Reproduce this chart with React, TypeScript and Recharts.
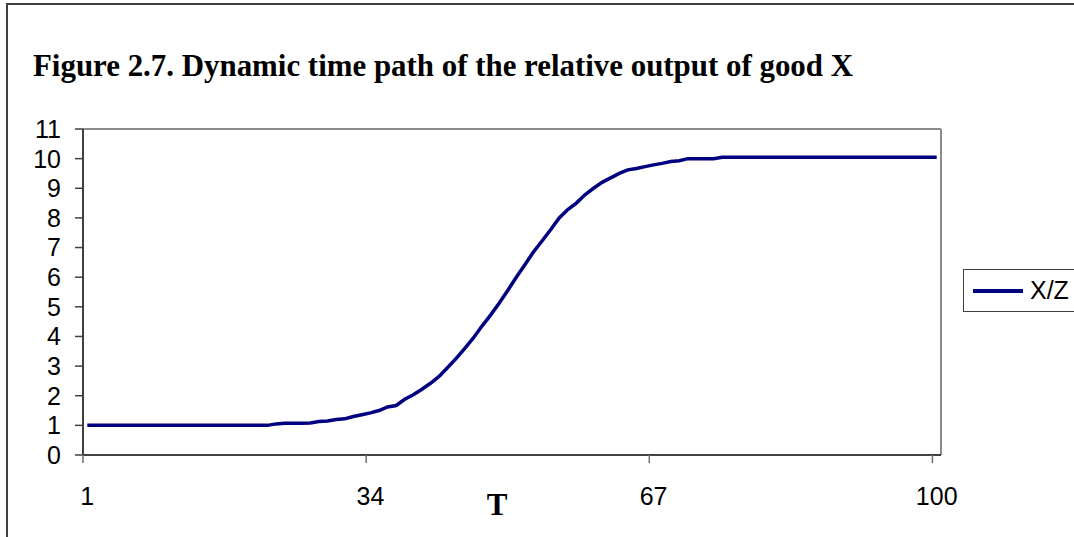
import React from "react";
import {
  Legend,
  Line,
  LineChart,
  ReferenceLine,
  XAxis,
  YAxis,
} from "recharts";

// Relative output X/Z over periods T = 1..100.
const flatStart = Array(22).fill(1.0);
const riseValues = [
  1.05, 1.07, 1.07, 1.07, 1.08, 1.13, 1.15, 1.2, 1.22, 1.3, 1.36, 1.42, 1.5,
  1.62, 1.67, 1.88, 2.03, 2.22, 2.42, 2.65, 2.95, 3.26, 3.6, 3.95, 4.35, 4.72,
  5.12, 5.55, 6.0, 6.42, 6.85, 7.22, 7.6, 8.0, 8.28, 8.5, 8.78, 9.0, 9.2, 9.35,
  9.5, 9.62, 9.67, 9.73, 9.79, 9.84, 9.9, 9.93, 10.0, 10.0, 10.0, 10.0,
];
const flatEnd = Array(26).fill(10.05);
const ratioValues: number[] = [...flatStart, ...riseValues, ...flatEnd];

const periods = ratioValues.map((_, i) => i + 1);
const xTicks = [1, 34, 67, 100];
const yTicks = [0, 1, 2, 3, 4, 5, 6, 7, 8, 9, 10, 11];

const data = periods.map((t, i) => ({ t, ratio: ratioValues[i] }));

const WIDTH = 1074;
const HEIGHT = 537;
const MARGIN = { top: 129, right: 133, bottom: 22, left: 0 };
const Y_AXIS_WIDTH = 83;
const PLOT_WIDTH = WIDTH - MARGIN.left - MARGIN.right - Y_AXIS_WIDTH;
const HALF_CATEGORY = PLOT_WIDTH / periods.length / 2;

const NAVY = "#000080";
const AXIS_DARK = "#404040";
const BORDER_GRAY = "#8c8c8c";
const SANS = "'Liberation Sans', Arial, sans-serif";
const SERIF = "'Liberation Serif', 'Times New Roman', serif";

// Excel-style category axis: tick marks sit between categories, labels on them.
function CategoryTick(props: any) {
  const { x, y, payload } = props;
  return (
    <g>
      <line
        x1={x - HALF_CATEGORY}
        x2={x - HALF_CATEGORY}
        y1={y}
        y2={y + 8}
        stroke="#707070"
        strokeWidth={1.5}
      />
      <text
        x={x}
        y={y + 50}
        textAnchor="middle"
        fontFamily={SANS}
        fontSize={25}
        fill="#000"
      >
        {payload.value}
      </text>
    </g>
  );
}

function LegendBox(props: any) {
  const items = props.payload ?? [];
  return (
    <div
      style={{
        border: `1.5px solid ${AXIS_DARK}`,
        width: 200,
        height: 41,
        display: "flex",
        alignItems: "center",
        background: "#fff",
      }}
    >
      {items.map((item: any) => (
        <div key={item.value} style={{ display: "flex", alignItems: "center" }}>
          <svg width={66} height={20}>
            <line x1={9} x2={59} y1={10} y2={10} stroke={NAVY} strokeWidth={4} />
          </svg>
          <span style={{ fontFamily: SANS, fontSize: 25, color: "#000" }}>
            {item.value}
          </span>
        </div>
      ))}
    </div>
  );
}

export default function App() {
  return (
    <div
      style={{
        position: "absolute",
        left: 0,
        top: 0,
        width: WIDTH,
        height: HEIGHT,
        overflow: "hidden",
        background: "#fff",
      }}
    >
      <div
        style={{
          position: "absolute",
          left: 6,
          top: 3,
          width: 1200,
          height: 700,
          borderLeft: `2px solid ${AXIS_DARK}`,
          borderTop: `2px solid ${AXIS_DARK}`,
        }}
      />
      <svg
        width={WIDTH}
        height={100}
        style={{ position: "absolute", left: 0, top: 0 }}
      >
        <text
          x={33}
          y={76}
          fontFamily={SERIF}
          fontWeight="bold"
          fontSize={32}
          textLength={820}
          lengthAdjust="spacingAndGlyphs"
          fill="#000"
        >
          Figure 2.7. Dynamic time path of the relative output of good X
        </text>
      </svg>
      <div style={{ position: "absolute", left: 0, top: 0 }}>
        <LineChart width={WIDTH} height={HEIGHT} data={data} margin={MARGIN}>
          <XAxis
            dataKey="t"
            type="number"
            domain={[0.5, 100.5]}
            ticks={xTicks}
            interval={0}
            height={60}
            tickLine={false}
            tickSize={0}
            tickMargin={0}
            tick={<CategoryTick />}
            axisLine={{ stroke: AXIS_DARK, strokeWidth: 2 }}
            label={{
              value: "T",
              position: "insideBottom",
              dx: -15,
              offset: 0,
              style: {
                fontFamily: SERIF,
                fontWeight: "bold",
                fontSize: 31,
                fill: "#000",
              },
            }}
          />
          <YAxis
            width={Y_AXIS_WIDTH}
            domain={[0, 11]}
            ticks={yTicks}
            interval={0}
            tickSize={8}
            tickMargin={14}
            axisLine={{ stroke: AXIS_DARK, strokeWidth: 2 }}
            tickLine={{ stroke: AXIS_DARK, strokeWidth: 1.5 }}
            tick={{ fontFamily: SANS, fontSize: 25, fill: "#000" }}
          />
          <ReferenceLine y={11} stroke={BORDER_GRAY} strokeWidth={2} />
          <ReferenceLine x={100.5} stroke={BORDER_GRAY} strokeWidth={2} />
          <Legend
            layout="horizontal"
            align="center"
            verticalAlign="middle"
            content={<LegendBox />}
            wrapperStyle={{ left: 963, top: 269, width: 200, height: 44 }}
          />
          <Line
            type="linear"
            dataKey="ratio"
            name="X/Z"
            stroke={NAVY}
            strokeWidth={3.5}
            dot={false}
            isAnimationActive={false}
          />
        </LineChart>
      </div>
    </div>
  );
}
